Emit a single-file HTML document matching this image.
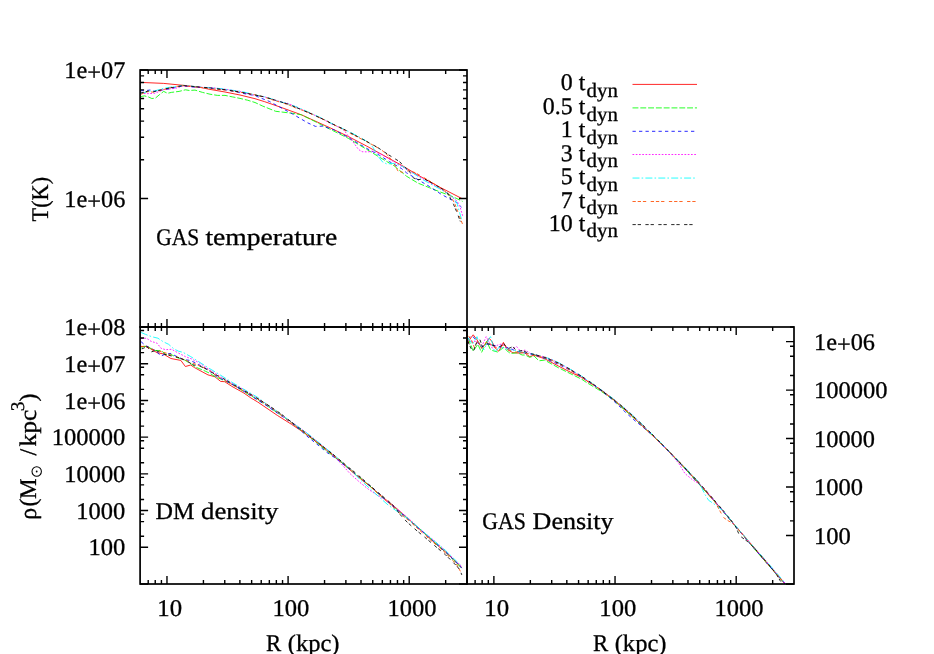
<!DOCTYPE html>
<html><head><meta charset="utf-8"><title>plot</title>
<style>
html,body{margin:0;padding:0;background:#fff;}
body{width:934px;height:654px;overflow:hidden;}
svg{display:block;will-change:transform;}
text{font-family:"Liberation Serif",serif;fill:#000;stroke:#000;stroke-width:0.3px;text-rendering:geometricPrecision;}
</style></head><body>
<svg width="934" height="654" viewBox="0 0 934 654">
<rect width="934" height="654" fill="#fff"/>
<defs><clipPath id="cT"><rect x="140.1" y="70" width="326.9" height="257"/></clipPath><clipPath id="cD"><rect x="140.1" y="327" width="326.9" height="257"/></clipPath><clipPath id="cG"><rect x="467" y="327" width="327" height="257"/></clipPath></defs>
<g clip-path="url(#cT)" fill="none" stroke-width="0.85" stroke-linejoin="round">
<path d="M140.1 82.4L150.0 82.8L163.7 83.4L183.0 85.3L197.7 86.9L210.0 89.4L225.0 92.0L240.0 95.0L255.0 98.7L264.7 101.7L280.0 107.0L301.4 114.8L330.0 127.8L348.3 136.5L366.7 146.1L385.0 156.2L403.4 166.3L417.9 175.1L440.8 187.7L462.0 198.6" stroke="#ff0000"/>
<path d="M140.6 96.6L144.4 95.9L148.3 96.9L151.8 98.5L155.3 98.2L159.2 94.9L163.7 91.4L167.5 93.3L171.4 92.4L179.1 91.4L185.5 89.8L189.4 90.5L195.0 90.1L202.5 92.4L210.0 94.2L217.5 95.4L225.0 95.4L232.5 96.9L240.0 98.4L247.5 100.2L255.0 102.5L262.5 106.0L275.7 111.3L292.4 113.3L301.4 114.8L315.0 121.5L330.0 129.2L348.3 138.3L366.7 149.4L379.5 157.2L394.2 165.9L406.5 176.2L417.9 183.1L429.4 187.7L440.8 192.2L448.9 195.1L456.9 198.6L462.6 201.4" stroke="#00ff00" stroke-dasharray="5.9 1.9"/>
<path d="M140.6 90.8L148.0 90.3L151.5 89.8L154.0 91.4L163.7 89.8L170.1 88.8L183.0 85.8L195.0 87.2L202.5 87.3L210.0 88.0L217.5 89.0L225.0 89.7L232.5 91.1L240.0 92.7L247.5 94.3L255.0 95.5L258.7 97.2L269.3 101.4L280.0 107.2L292.4 113.9L307.8 122.9L315.5 126.4L323.2 126.1L330.0 128.7L333.5 129.6L348.3 137.4L366.7 148.4L379.5 155.3L389.6 161.7L401.6 168.6L406.5 172.8L417.9 179.6L429.4 186.5L440.8 194.0L450.0 199.1L456.9 202.6L461.5 207.2" stroke="#0000ff" stroke-dasharray="3.3 3.2"/>
<path d="M140.6 93.2L146.3 93.7L154.7 93.3L163.7 89.6L175.9 88.2L183.0 85.8L195.0 87.1L202.5 87.4L210.0 87.5L217.5 88.4L225.0 89.3L232.5 90.3L240.0 91.6L247.5 93.7L255.0 95.3L264.7 96.9L272.6 99.5L280.6 101.7L288.5 103.6L295.7 106.7L302.8 110.1L310.0 113.1L318.5 117.0L327.0 121.4L330.0 123.2L339.2 127.3L343.8 130.1L347.4 134.7L351.1 139.3L354.8 144.3L358.4 149.4L362.1 151.7L367.6 151.9L373.1 151.2L380.5 153.9L394.2 161.9L406.5 169.3L423.7 179.1L443.1 190.5L456.9 200.8L460.3 207.7L462.6 215.7" stroke="#ff00ff" stroke-dasharray="1.7 1.55"/>
<path d="M140.6 93.4L146.0 92.2L148.3 90.8L153.4 91.3L163.7 88.3L170.1 87.2L176.6 86.4L183.0 85.3L189.0 85.8L195.0 86.6L202.5 87.5L210.0 87.8L217.5 88.3L225.0 89.2L232.5 90.3L240.0 91.2L247.5 92.9L255.0 94.9L264.7 96.9L272.6 99.2L280.6 101.8L288.5 104.0L295.7 106.6L302.8 109.5L310.0 112.8L318.5 116.7L327.0 120.7L330.0 122.6L336.9 126.1L343.8 129.2L350.6 132.5L357.5 136.0L369.0 142.6L373.1 147.5L377.7 155.8L382.3 161.7L386.9 164.0L394.2 163.3L403.4 166.8L406.5 168.8L423.7 180.2L440.8 189.4L452.3 196.3L456.9 203.1L461.5 219.2" stroke="#00ffff" stroke-dasharray="7.0 2.1 1.6 2.2"/>
<path d="M141.2 94.3L144.4 92.6L148.3 91.6L153.4 92.2L163.7 89.5L170.1 87.8L176.6 86.5L183.0 85.6L189.0 86.3L195.0 86.9L202.5 87.6L210.0 88.6L217.5 89.5L225.0 90.0L232.5 91.0L240.0 92.2L247.5 93.4L255.0 94.8L264.7 97.2L272.6 99.9L280.6 102.3L288.5 104.8L295.7 107.9L302.8 110.4L310.0 113.1L318.5 117.2L327.0 121.1L330.0 122.9L336.9 126.2L343.8 129.8L350.6 133.6L357.5 137.0L369.4 143.1L381.4 149.8L388.7 156.2L394.2 164.0L397.9 170.9L403.4 172.6L408.8 170.5L415.6 172.8L429.4 180.8L440.8 188.2L450.0 195.1L454.6 203.1L458.0 212.3L462.6 224.3" stroke="#ff4d00" stroke-dasharray="3.3 1.9 3.3 1.9 3.3 4.5"/>
<path d="M140.6 93.0L144.4 92.1L148.3 91.0L153.4 91.7L163.7 89.2L170.1 87.9L183.0 85.6L195.0 86.7L210.0 87.9L225.0 89.7L240.0 92.0L255.0 95.0L264.7 96.9L288.5 104.3L310.0 113.3L327.0 121.0L330.0 122.8L343.8 129.2L357.5 136.5L369.4 142.9L377.7 147.5L388.7 154.9L399.7 161.7L401.9 164.2L407.6 169.9L409.9 172.2L413.3 177.9L417.9 179.6L424.8 179.1L435.1 184.8L440.8 188.2L446.6 191.7L450.0 197.4L453.5 204.3L456.9 212.3L460.3 221.5" stroke="#000000" stroke-dasharray="3.3 1.9 3.3 4.4"/>
</g>
<g clip-path="url(#cD)" fill="none" stroke-width="0.85" stroke-linejoin="round">
<path d="M141.1 346.6L147.2 346.3L151.8 349.7L157.1 352.7L163.2 353.9L170.9 358.5L180.8 360.4L185.4 366.5L190.7 365.0L194.5 367.6L208.0 374.9L215.0 376.8L220.6 381.4L224.7 381.7L231.6 386.2L244.0 393.1L250.8 397.9L257.7 402.0L277.5 415.5L291.3 424.2L305.0 433.3L311.9 438.3L318.8 443.6L325.7 449.4L332.6 455.0L341.3 462.2L350.0 469.9L356.4 475.4L362.7 480.5L369.1 485.5L375.5 490.9L381.8 496.3L388.2 501.5L394.6 506.7L400.9 512.2L407.3 518.0L413.7 523.8L420.0 529.5L426.4 535.3L432.8 541.1L439.1 546.6L445.5 551.8L453.6 559.5L461.8 567.5" stroke="#ff0000"/>
<path d="M141.1 348.5L143.3 346.3L147.9 346.6L154.0 350.5L160.9 350.5L166.3 354.7L170.1 353.9L176.2 357.3L183.9 359.6L191.5 364.2L196.1 367.3L205.2 371.1L209.6 373.2L215.0 376.6L227.4 381.9L233.0 384.8L245.0 392.3L255.0 398.0L265.0 404.3L271.2 408.7L277.5 412.7L284.4 417.4L291.3 422.6L298.1 428.1L305.0 433.3L311.9 438.7L318.8 444.4L325.7 450.2L332.6 455.5L341.3 462.3L350.0 469.6L356.4 474.8L362.7 479.9L369.1 485.3L375.5 491.2L381.8 496.9L388.2 502.2L394.6 507.5L400.9 512.9L407.3 518.3L413.7 523.7L420.0 529.1L426.4 534.9L432.8 540.7L439.1 546.4L445.5 551.9L453.6 560.2L461.8 568.3" stroke="#00ff00" stroke-dasharray="5.9 1.9"/>
<path d="M141.1 341.7L145.3 345.5L150.2 348.2L155.6 350.5L160.9 356.2L164.7 354.3L170.9 353.5L177.7 357.0L183.9 359.6L190.0 360.4L196.1 363.1L200.7 365.7L208.0 369.9L215.0 375.4L225.0 380.7L235.0 385.9L245.0 392.0L255.0 398.4L265.0 404.5L271.2 408.9L277.5 413.2L284.4 417.9L291.3 422.6L300.0 429.8L308.0 437.0L318.0 445.0L327.0 452.5L335.0 457.8L350.0 469.6L356.4 474.9L362.7 480.1L369.1 485.1L375.5 490.6L381.8 496.5L388.2 502.3L394.6 507.6L400.9 512.9L407.3 518.4L413.7 524.2L420.0 529.5L426.4 534.8L432.8 540.4L439.1 546.2L445.5 551.9L453.6 559.8L461.8 568.1" stroke="#0000ff" stroke-dasharray="3.3 3.2"/>
<path d="M141.1 338.6L146.4 338.2L151.0 341.3L157.1 343.2L160.9 348.2L165.5 349.7L171.6 349.3L177.7 352.7L185.4 356.6L191.5 358.9L199.1 362.7L208.0 368.8L220.0 376.3L225.0 379.5L235.0 384.9L245.0 390.3L255.0 396.8L265.0 403.5L271.2 407.7L277.5 412.0L284.4 417.2L291.3 421.9L298.1 426.6L305.0 431.7L311.9 437.4L318.8 442.9L325.7 448.5L332.6 454.4L341.0 463.5L350.0 473.6L360.0 482.5L369.1 489.8L378.0 495.5L388.2 502.0L407.3 517.3L413.7 523.1L420.0 529.0L426.4 534.4L432.8 539.5L439.1 545.0L445.5 550.7L453.6 558.7L461.8 566.6" stroke="#ff00ff" stroke-dasharray="1.7 1.55"/>
<path d="M141.1 332.5L145.6 334.4L151.8 336.7L157.9 338.2L163.2 341.7L168.6 344.3L173.9 348.9L178.5 351.2L183.1 352.4L190.7 356.6L199.1 361.9L208.0 367.6L220.0 374.8L231.6 382.1L245.0 390.0L257.7 397.4L265.0 402.9L271.2 407.4L277.5 411.7L284.4 416.7L291.3 421.9L298.1 426.9L305.0 431.6L311.9 436.9L318.8 442.5L325.7 448.2L332.6 453.7L341.3 461.3L350.0 468.8L360.0 479.5L369.1 487.9L378.0 496.0L388.2 505.1L398.0 512.0L407.3 518.0L426.4 534.4L432.8 539.8L439.1 545.0L445.5 550.4L453.6 558.4L461.8 566.3" stroke="#00ffff" stroke-dasharray="7.0 2.1 1.6 2.2"/>
<path d="M141.1 346.3L145.6 346.8L151.0 348.9L157.9 350.8L166.3 353.1L172.0 355.5L180.0 358.0L190.0 362.0L200.0 366.0L208.0 369.5L215.0 374.8L225.0 380.6L235.0 386.2L245.0 391.5L255.0 397.4L265.0 403.3L271.2 407.5L277.5 412.0L284.4 417.5L291.3 422.7L298.1 427.8L305.0 433.2L311.9 438.7L318.8 443.7L325.7 448.9L332.6 454.5L341.3 461.8L350.0 468.9L356.4 474.4L362.7 480.2L369.1 485.6L392.0 506.0L400.0 513.5L410.0 521.5L426.4 536.5L445.5 553.0L457.0 565.0L461.8 574.0" stroke="#ff4d00" stroke-dasharray="3.3 1.9 3.3 1.9 3.3 4.5"/>
<path d="M141.8 348.9L147.2 346.6L151.0 352.0L155.6 350.5L164.7 354.3L170.9 355.8L177.7 357.3L185.4 360.4L193.8 365.0L200.7 366.5L208.0 369.9L215.0 374.3L225.0 379.5L235.0 385.4L245.0 391.1L255.0 396.8L265.0 403.2L271.2 407.2L277.5 411.4L284.4 416.5L291.3 421.9L298.1 427.1L305.0 432.3L311.9 437.9L318.8 443.4L325.7 448.7L332.6 454.0L341.3 461.3L350.0 468.5L356.4 473.6L362.7 479.1L369.1 484.7L375.5 490.3L381.8 495.6L388.2 500.9L395.0 507.3L400.0 514.5L407.3 522.3L416.0 530.0L426.4 538.6L436.0 546.8L445.5 554.8L457.0 566.3L460.0 570.0L461.8 574.9" stroke="#000000" stroke-dasharray="3.3 1.9 3.3 4.4"/>
</g>
<g clip-path="url(#cG)" fill="none" stroke-width="0.85" stroke-linejoin="round">
<path d="M467.8 343.6L470.0 339.0L473.2 334.8L477.0 339.8L482.0 348.5L489.2 338.2L492.3 342.0L494.6 347.4L498.8 351.2L503.4 342.4L507.6 349.7L512.9 352.7L519.0 353.1L524.4 352.7L529.7 356.6L534.0 355.2L544.6 358.7L558.3 366.0L572.1 373.0L582.0 377.5L590.0 383.0L595.0 385.9L603.7 392.1L612.0 398.4L620.5 405.9L629.0 413.5L637.3 421.1L645.5 428.9L654.1 437.1L662.0 444.4L670.0 452.6L678.0 461.0L686.1 469.5L692.5 476.5L699.0 483.8L705.9 491.8L712.8 499.5L723.5 511.7L734.3 524.7L745.0 537.1L755.7 550.0L766.4 562.6L777.1 574.8L785.7 584.8L790.0 589.7" stroke="#ff0000"/>
<path d="M467.8 338.2L470.9 345.1L473.2 351.2L477.8 344.3L481.6 352.4L486.9 341.3L490.0 348.9L492.3 350.5L497.6 352.0L503.7 347.4L508.3 352.0L510.6 353.5L517.5 352.7L522.1 355.0L525.1 355.0L529.7 357.3L534.0 356.0L539.0 360.8L544.6 360.1L558.3 367.7L572.1 374.5L582.0 379.4L586.8 382.7L595.0 387.5L603.7 393.0L612.0 398.8L620.5 406.3L629.0 413.5L637.3 421.2L645.5 429.0L654.1 436.8L662.0 444.5L670.0 453.0L678.0 461.2L686.1 469.7L692.5 477.0L699.0 484.1L705.9 491.8L712.8 499.3L723.5 511.9L734.3 524.7L745.0 537.4L755.7 550.4L766.4 562.7L777.1 575.0L785.7 584.7L790.0 589.4" stroke="#00ff00" stroke-dasharray="5.9 1.9"/>
<path d="M467.8 339.0L471.6 335.9L473.9 337.5L477.8 342.8L481.6 347.4L485.4 344.3L490.0 344.0L494.6 345.5L498.4 347.0L503.7 346.6L509.9 348.2L516.0 351.2L522.1 352.4L529.0 353.5L534.0 354.7L544.6 358.2L551.0 360.9L558.3 364.4L565.0 367.5L572.1 371.2L579.0 375.4L586.8 380.5L595.0 385.9L603.7 392.6L612.0 399.4L620.5 407.3L626.0 412.8L630.6 416.9L636.0 421.6L640.7 425.3L648.0 431.4L654.1 436.6L662.0 444.7L670.0 453.1L678.0 461.2L686.1 469.9L692.5 477.0L699.0 483.7L705.9 491.2L712.8 499.1L723.5 511.7L734.3 524.7L745.0 537.8L755.7 550.2L766.4 562.6L777.1 574.7L785.7 584.2L790.0 589.2" stroke="#0000ff" stroke-dasharray="3.3 3.2"/>
<path d="M467.8 339.8L471.6 341.3L477.0 341.3L481.6 346.6L486.2 336.7L489.2 342.4L492.3 348.2L498.4 344.7L502.2 344.0L506.8 348.2L511.4 349.7L516.7 346.6L520.5 351.2L525.1 350.1L530.5 353.5L534.0 354.6L544.6 356.9L551.0 359.2L558.3 362.9L565.0 366.6L572.1 370.7L579.0 375.0L586.8 380.4L595.0 385.8L603.7 391.6L612.0 398.0L620.5 404.8L629.0 411.9L637.3 420.2L645.5 428.4L654.1 436.5L662.0 444.4L670.0 452.7L674.0 457.5L678.6 463.2L685.0 473.6L691.4 478.9L697.0 482.6L699.0 482.9L705.9 490.7L712.8 498.6L723.5 511.7L734.3 524.5L745.0 536.9L755.7 549.2L766.4 561.4L777.1 574.2L785.7 584.1L790.0 589.1" stroke="#ff00ff" stroke-dasharray="1.7 1.55"/>
<path d="M467.8 337.5L472.4 344.3L477.0 336.7L479.3 343.6L483.9 349.7L490.4 335.9L494.6 352.0L499.9 346.6L503.7 348.2L509.9 349.7L516.0 350.5L523.6 352.7L530.5 353.5L534.0 354.6L544.6 357.1L551.0 359.2L558.3 362.5L565.0 366.2L572.1 370.4L579.0 374.4L586.8 379.7L595.0 385.5L603.7 391.6L612.0 397.8L620.5 404.8L629.0 412.0L637.3 419.6L645.5 427.7L654.1 436.2L662.0 443.9L670.0 452.3L678.0 460.4L686.1 468.5L692.5 475.3L699.0 482.4L702.1 488.6L705.0 494.5L708.6 500.3L715.0 504.6L719.5 508.0L723.5 511.1L734.3 524.4L745.0 536.7L755.7 549.2L766.4 561.2L777.1 573.5L785.7 583.8L790.0 588.8" stroke="#00ffff" stroke-dasharray="7.0 2.1 1.6 2.2"/>
<path d="M468.6 335.9L471.6 340.5L474.7 348.2L477.8 340.5L481.6 348.2L486.2 342.4L490.0 343.6L494.6 347.4L500.7 347.4L503.7 344.3L508.3 349.7L516.0 352.0L523.6 352.4L530.5 354.3L534.0 355.0L544.6 357.2L551.0 359.9L558.3 363.6L565.0 367.1L572.1 371.4L579.0 375.8L586.8 380.8L595.0 385.8L603.7 392.0L612.0 398.4L620.5 405.1L629.0 412.8L637.3 421.1L645.5 428.8L654.1 437.0L662.0 444.9L670.0 452.7L678.0 460.4L686.1 469.1L692.5 476.2L699.0 483.2L705.9 491.2L712.8 499.4L716.0 503.5L718.2 507.8L723.5 517.5L728.0 520.7L732.1 522.8L734.3 524.6L745.0 537.2L755.7 549.4L766.4 562.1L777.1 574.7L785.7 584.5L790.0 589.6" stroke="#ff4d00" stroke-dasharray="3.3 1.9 3.3 1.9 3.3 4.5"/>
<path d="M467.8 341.3L470.9 348.2L473.2 351.6L477.0 341.3L480.0 339.8L482.3 346.6L486.9 343.6L490.0 344.3L494.6 345.9L499.9 346.6L503.7 343.6L507.6 348.9L512.9 346.6L516.7 351.2L522.8 350.5L529.0 353.5L534.0 354.3L544.6 357.5L551.0 359.9L558.3 363.0L565.0 366.3L572.1 370.5L579.0 374.7L586.8 379.6L595.0 385.4L603.7 392.1L612.0 398.3L620.5 405.1L629.0 412.5L637.3 420.0L645.5 427.6L654.1 436.2L662.0 444.2L670.0 452.4L678.0 460.7L686.1 469.2L692.5 475.8L699.0 482.6L705.9 490.5L712.8 498.4L723.5 510.9L734.3 524.4L736.4 528.2L739.6 535.7L747.1 541.2L751.5 545.2L755.7 549.6L766.4 562.0L772.0 568.5L777.1 575.6L780.3 580.9L784.0 584.8" stroke="#000000" stroke-dasharray="3.3 1.9 3.3 4.4"/>
</g>
<rect x="140.10" y="70.00" width="326.90" height="257.00" fill="none" stroke="#000" stroke-width="1.70"/>
<rect x="140.10" y="327.00" width="326.90" height="257.00" fill="none" stroke="#000" stroke-width="1.70"/>
<rect x="467.00" y="327.00" width="327.00" height="257.00" fill="none" stroke="#000" stroke-width="1.70"/>
<path d="M148.21 70.00L148.21 74.00M155.23 70.00L155.23 74.00M161.43 70.00L161.43 74.00M166.97 70.00L166.97 78.00M203.43 70.00L203.43 74.00M224.76 70.00L224.76 74.00M239.89 70.00L239.89 74.00M251.63 70.00L251.63 74.00M261.22 70.00L261.22 74.00M269.33 70.00L269.33 74.00M276.35 70.00L276.35 74.00M282.55 70.00L282.55 74.00M288.09 70.00L288.09 78.00M324.55 70.00L324.55 74.00M345.88 70.00L345.88 74.00M361.01 70.00L361.01 74.00M372.75 70.00L372.75 74.00M382.34 70.00L382.34 74.00M390.45 70.00L390.45 74.00M397.47 70.00L397.47 74.00M403.67 70.00L403.67 74.00M409.21 70.00L409.21 78.00M445.67 70.00L445.67 74.00M148.21 327.00L148.21 323.00M155.23 327.00L155.23 323.00M161.43 327.00L161.43 323.00M166.97 327.00L166.97 319.00M203.43 327.00L203.43 323.00M224.76 327.00L224.76 323.00M239.89 327.00L239.89 323.00M251.63 327.00L251.63 323.00M261.22 327.00L261.22 323.00M269.33 327.00L269.33 323.00M276.35 327.00L276.35 323.00M282.55 327.00L282.55 323.00M288.09 327.00L288.09 319.00M324.55 327.00L324.55 323.00M345.88 327.00L345.88 323.00M361.01 327.00L361.01 323.00M372.75 327.00L372.75 323.00M382.34 327.00L382.34 323.00M390.45 327.00L390.45 323.00M397.47 327.00L397.47 323.00M403.67 327.00L403.67 323.00M409.21 327.00L409.21 319.00M445.67 327.00L445.67 323.00M140.10 327.00L148.10 327.00M140.10 198.50L148.10 198.50M140.10 159.82L144.10 159.82M140.10 137.19L144.10 137.19M140.10 121.14L144.10 121.14M140.10 108.68L144.10 108.68M140.10 98.51L144.10 98.51M140.10 89.90L144.10 89.90M140.10 82.45L144.10 82.45M140.10 75.88L144.10 75.88M140.10 70.00L148.10 70.00M467.00 327.00L459.00 327.00M467.00 198.50L459.00 198.50M467.00 159.82L463.00 159.82M467.00 137.19L463.00 137.19M467.00 121.14L463.00 121.14M467.00 108.68L463.00 108.68M467.00 98.51L463.00 98.51M467.00 89.90L463.00 89.90M467.00 82.45L463.00 82.45M467.00 75.88L463.00 75.88M467.00 70.00L459.00 70.00M148.21 327.00L148.21 331.00M155.23 327.00L155.23 331.00M161.43 327.00L161.43 331.00M166.97 327.00L166.97 335.00M203.43 327.00L203.43 331.00M224.76 327.00L224.76 331.00M239.89 327.00L239.89 331.00M251.63 327.00L251.63 331.00M261.22 327.00L261.22 331.00M269.33 327.00L269.33 331.00M276.35 327.00L276.35 331.00M282.55 327.00L282.55 331.00M288.09 327.00L288.09 335.00M324.55 327.00L324.55 331.00M345.88 327.00L345.88 331.00M361.01 327.00L361.01 331.00M372.75 327.00L372.75 331.00M382.34 327.00L382.34 331.00M390.45 327.00L390.45 331.00M397.47 327.00L397.47 331.00M403.67 327.00L403.67 331.00M409.21 327.00L409.21 335.00M445.67 327.00L445.67 331.00M148.21 584.00L148.21 580.00M155.23 584.00L155.23 580.00M161.43 584.00L161.43 580.00M166.97 584.00L166.97 576.00M203.43 584.00L203.43 580.00M224.76 584.00L224.76 580.00M239.89 584.00L239.89 580.00M251.63 584.00L251.63 580.00M261.22 584.00L261.22 580.00M269.33 584.00L269.33 580.00M276.35 584.00L276.35 580.00M282.55 584.00L282.55 580.00M288.09 584.00L288.09 576.00M324.55 584.00L324.55 580.00M345.88 584.00L345.88 580.00M361.01 584.00L361.01 580.00M372.75 584.00L372.75 580.00M382.34 584.00L382.34 580.00M390.45 584.00L390.45 580.00M397.47 584.00L397.47 580.00M403.67 584.00L403.67 580.00M409.21 584.00L409.21 576.00M445.67 584.00L445.67 580.00M140.10 584.00L148.10 584.00M140.10 547.29L148.10 547.29M140.10 536.23L144.10 536.23M140.10 521.62L144.10 521.62M140.10 514.13L144.10 514.13M140.10 510.57L148.10 510.57M140.10 499.52L144.10 499.52M140.10 484.91L144.10 484.91M140.10 477.42L144.10 477.42M140.10 473.86L148.10 473.86M140.10 462.81L144.10 462.81M140.10 448.19L144.10 448.19M140.10 440.70L144.10 440.70M140.10 437.14L148.10 437.14M140.10 426.09L144.10 426.09M140.10 411.48L144.10 411.48M140.10 403.99L144.10 403.99M140.10 400.43L148.10 400.43M140.10 389.38L144.10 389.38M140.10 374.77L144.10 374.77M140.10 367.27L144.10 367.27M140.10 363.71L148.10 363.71M140.10 352.66L144.10 352.66M140.10 338.05L144.10 338.05M140.10 330.56L144.10 330.56M140.10 327.00L148.10 327.00M467.00 584.00L459.00 584.00M467.00 547.29L459.00 547.29M467.00 536.23L463.00 536.23M467.00 521.62L463.00 521.62M467.00 514.13L463.00 514.13M467.00 510.57L459.00 510.57M467.00 499.52L463.00 499.52M467.00 484.91L463.00 484.91M467.00 477.42L463.00 477.42M467.00 473.86L459.00 473.86M467.00 462.81L463.00 462.81M467.00 448.19L463.00 448.19M467.00 440.70L463.00 440.70M467.00 437.14L459.00 437.14M467.00 426.09L463.00 426.09M467.00 411.48L463.00 411.48M467.00 403.99L463.00 403.99M467.00 400.43L459.00 400.43M467.00 389.38L463.00 389.38M467.00 374.77L463.00 374.77M467.00 367.27L463.00 367.27M467.00 363.71L459.00 363.71M467.00 352.66L463.00 352.66M467.00 338.05L463.00 338.05M467.00 330.56L463.00 330.56M467.00 327.00L459.00 327.00M475.11 327.00L475.11 331.00M482.14 327.00L482.14 331.00M488.33 327.00L488.33 331.00M493.88 327.00L493.88 335.00M530.35 327.00L530.35 331.00M551.69 327.00L551.69 331.00M566.82 327.00L566.82 331.00M578.56 327.00L578.56 331.00M588.16 327.00L588.16 331.00M596.27 327.00L596.27 331.00M603.29 327.00L603.29 331.00M609.49 327.00L609.49 331.00M615.04 327.00L615.04 335.00M651.51 327.00L651.51 331.00M672.84 327.00L672.84 331.00M687.98 327.00L687.98 331.00M699.72 327.00L699.72 331.00M709.31 327.00L709.31 331.00M717.43 327.00L717.43 331.00M724.45 327.00L724.45 331.00M730.65 327.00L730.65 331.00M736.19 327.00L736.19 335.00M772.67 327.00L772.67 331.00M475.11 584.00L475.11 580.00M482.14 584.00L482.14 580.00M488.33 584.00L488.33 580.00M493.88 584.00L493.88 576.00M530.35 584.00L530.35 580.00M551.69 584.00L551.69 580.00M566.82 584.00L566.82 580.00M578.56 584.00L578.56 580.00M588.16 584.00L588.16 580.00M596.27 584.00L596.27 580.00M603.29 584.00L603.29 580.00M609.49 584.00L609.49 580.00M615.04 584.00L615.04 576.00M651.51 584.00L651.51 580.00M672.84 584.00L672.84 580.00M687.98 584.00L687.98 580.00M699.72 584.00L699.72 580.00M709.31 584.00L709.31 580.00M717.43 584.00L717.43 580.00M724.45 584.00L724.45 580.00M730.65 584.00L730.65 580.00M736.19 584.00L736.19 576.00M772.67 584.00L772.67 580.00M794.00 584.00L786.00 584.00M794.00 535.52L786.00 535.52M794.00 520.92L790.00 520.92M794.00 501.63L790.00 501.63M794.00 491.74L790.00 491.74M794.00 487.04L786.00 487.04M794.00 472.44L790.00 472.44M794.00 453.15L790.00 453.15M794.00 443.25L790.00 443.25M794.00 438.56L786.00 438.56M794.00 423.96L790.00 423.96M794.00 404.67L790.00 404.67M794.00 394.77L790.00 394.77M794.00 390.08L786.00 390.08M794.00 375.48L790.00 375.48M794.00 356.19L790.00 356.19M794.00 346.29L790.00 346.29M794.00 341.59L786.00 341.59M794.00 327.00L790.00 327.00" stroke="#000" stroke-width="1.4" fill="none"/>
<text x="125.30" y="78.10" font-size="23.90" text-anchor="end" textLength="61.00" lengthAdjust="spacingAndGlyphs" >1e<tspan dy="2.2">+</tspan><tspan dy="-2.2">07</tspan></text>
<text x="125.30" y="206.60" font-size="23.90" text-anchor="end" textLength="61.00" lengthAdjust="spacingAndGlyphs" >1e<tspan dy="2.2">+</tspan><tspan dy="-2.2">06</tspan></text>
<text x="125.30" y="335.10" font-size="23.90" text-anchor="end" textLength="61.00" lengthAdjust="spacingAndGlyphs" >1e<tspan dy="2.2">+</tspan><tspan dy="-2.2">08</tspan></text>
<text x="125.30" y="371.81" font-size="23.90" text-anchor="end" textLength="61.00" lengthAdjust="spacingAndGlyphs" >1e<tspan dy="2.2">+</tspan><tspan dy="-2.2">07</tspan></text>
<text x="125.30" y="408.53" font-size="23.90" text-anchor="end" textLength="61.00" lengthAdjust="spacingAndGlyphs" >1e<tspan dy="2.2">+</tspan><tspan dy="-2.2">06</tspan></text>
<text x="125.30" y="445.24" font-size="23.90" text-anchor="end" textLength="73.60" lengthAdjust="spacingAndGlyphs" >100000</text>
<text x="125.30" y="481.96" font-size="23.90" text-anchor="end" textLength="61.00" lengthAdjust="spacingAndGlyphs" >10000</text>
<text x="125.30" y="518.67" font-size="23.90" text-anchor="end" textLength="49.00" lengthAdjust="spacingAndGlyphs" >1000</text>
<text x="125.30" y="555.39" font-size="23.90" text-anchor="end" textLength="36.90" lengthAdjust="spacingAndGlyphs" >100</text>
<text x="814.00" y="349.69" font-size="23.90" text-anchor="start" textLength="61.00" lengthAdjust="spacingAndGlyphs" >1e<tspan dy="2.2">+</tspan><tspan dy="-2.2">06</tspan></text>
<text x="814.00" y="398.18" font-size="23.90" text-anchor="start" textLength="73.60" lengthAdjust="spacingAndGlyphs" >100000</text>
<text x="814.00" y="446.66" font-size="23.90" text-anchor="start" textLength="61.00" lengthAdjust="spacingAndGlyphs" >10000</text>
<text x="814.00" y="495.14" font-size="23.90" text-anchor="start" textLength="49.00" lengthAdjust="spacingAndGlyphs" >1000</text>
<text x="814.00" y="543.62" font-size="23.90" text-anchor="start" textLength="36.90" lengthAdjust="spacingAndGlyphs" >100</text>
<text x="169.77" y="615.60" font-size="23.90" text-anchor="middle" textLength="24.80" lengthAdjust="spacingAndGlyphs" >10</text>
<text x="290.89" y="615.60" font-size="23.90" text-anchor="middle" textLength="36.90" lengthAdjust="spacingAndGlyphs" >100</text>
<text x="412.01" y="615.60" font-size="23.90" text-anchor="middle" textLength="49.00" lengthAdjust="spacingAndGlyphs" >1000</text>
<text x="266.05" y="650.80" font-size="23.90" text-anchor="start" textLength="15.20" lengthAdjust="spacingAndGlyphs" >R</text>
<text x="287.75" y="650.80" font-size="23.90" text-anchor="start" textLength="51.80" lengthAdjust="spacingAndGlyphs" >(kpc)</text>
<text x="496.68" y="615.60" font-size="23.90" text-anchor="middle" textLength="24.80" lengthAdjust="spacingAndGlyphs" >10</text>
<text x="617.84" y="615.60" font-size="23.90" text-anchor="middle" textLength="36.90" lengthAdjust="spacingAndGlyphs" >100</text>
<text x="738.99" y="615.60" font-size="23.90" text-anchor="middle" textLength="49.00" lengthAdjust="spacingAndGlyphs" >1000</text>
<text x="593.00" y="650.80" font-size="23.90" text-anchor="start" textLength="15.20" lengthAdjust="spacingAndGlyphs" >R</text>
<text x="614.70" y="650.80" font-size="23.90" text-anchor="start" textLength="51.80" lengthAdjust="spacingAndGlyphs" >(kpc)</text>
<text x="156.20" y="244.50" font-size="23.90" text-anchor="start" textLength="42.90" lengthAdjust="spacingAndGlyphs" >GAS</text>
<text x="205.40" y="244.50" font-size="23.90" text-anchor="start" textLength="131.80" lengthAdjust="spacingAndGlyphs" >temperature</text>
<text x="155.50" y="518.50" font-size="23.90" text-anchor="start" textLength="38.90" lengthAdjust="spacingAndGlyphs" >DM</text>
<text x="201.10" y="518.50" font-size="23.90" text-anchor="start" textLength="77.30" lengthAdjust="spacingAndGlyphs" >density</text>
<text x="482.20" y="528.80" font-size="23.90" text-anchor="start" textLength="43.60" lengthAdjust="spacingAndGlyphs" >GAS</text>
<text x="532.60" y="528.80" font-size="23.90" text-anchor="start" textLength="81.00" lengthAdjust="spacingAndGlyphs" >Density</text>
<g transform="translate(47.6,199.2) rotate(-90)"><text x="0" y="0" font-size="23.90" text-anchor="middle" textLength="44.5" lengthAdjust="spacingAndGlyphs">T(K)</text></g>
<g transform="translate(35.8,519.1) rotate(-90)">
<text x="-0.6" y="0" font-size="23.9">ρ</text>
<text x="12.6" y="0" font-size="23.9">(</text>
<text x="20.0" y="0" font-size="23.9" textLength="20.6" lengthAdjust="spacingAndGlyphs">M</text>
<circle cx="47.6" cy="0.9" r="4.7" fill="none" stroke="#000" stroke-width="1.05"/><circle cx="47.6" cy="0.9" r="0.9" fill="#000"/>
<text x="63.6" y="0" font-size="23.9">/</text>
<text x="72.6" y="0" font-size="23.9" textLength="37" lengthAdjust="spacingAndGlyphs">kpc</text>
<text x="107.9" y="-11.7" font-size="19.4">3</text>
<text x="117.6" y="0" font-size="23.9">)</text>
</g>
<g fill="none" stroke-width="0.85">
<path d="M632.5 84.40L697 84.40" stroke="#ff0000"/>
<path d="M632.5 107.90L697 107.90" stroke="#00ff00" stroke-dasharray="5.9 1.9"/>
<path d="M632.5 131.30L697 131.30" stroke="#0000ff" stroke-dasharray="3.3 3.2"/>
<path d="M632.5 154.50L697 154.50" stroke="#ff00ff" stroke-dasharray="1.7 1.55"/>
<path d="M632.5 178.05L697 178.05" stroke="#00ffff" stroke-dasharray="7.0 2.1 1.6 2.2"/>
<path d="M632.5 201.50L697 201.50" stroke="#ff4d00" stroke-dasharray="3.3 1.9 3.3 1.9 3.3 4.5"/>
<path d="M632.5 224.60L697 224.60" stroke="#000000" stroke-dasharray="3.3 1.9 3.3 4.4"/>
</g>
<text x="572.6" y="90.40" font-size="23.9" text-anchor="end">0</text>
<text x="578.8" y="90.40" font-size="23.9">t</text>
<text x="586.6" y="97.10" font-size="20.4" textLength="31.4" lengthAdjust="spacingAndGlyphs">dyn</text>
<text x="572.6" y="113.90" font-size="23.9" text-anchor="end">0.5</text>
<text x="578.8" y="113.90" font-size="23.9">t</text>
<text x="586.6" y="120.60" font-size="20.4" textLength="31.4" lengthAdjust="spacingAndGlyphs">dyn</text>
<text x="572.6" y="137.30" font-size="23.9" text-anchor="end">1</text>
<text x="578.8" y="137.30" font-size="23.9">t</text>
<text x="586.6" y="144.00" font-size="20.4" textLength="31.4" lengthAdjust="spacingAndGlyphs">dyn</text>
<text x="572.6" y="160.50" font-size="23.9" text-anchor="end">3</text>
<text x="578.8" y="160.50" font-size="23.9">t</text>
<text x="586.6" y="167.20" font-size="20.4" textLength="31.4" lengthAdjust="spacingAndGlyphs">dyn</text>
<text x="572.6" y="184.05" font-size="23.9" text-anchor="end">5</text>
<text x="578.8" y="184.05" font-size="23.9">t</text>
<text x="586.6" y="190.75" font-size="20.4" textLength="31.4" lengthAdjust="spacingAndGlyphs">dyn</text>
<text x="572.6" y="207.50" font-size="23.9" text-anchor="end">7</text>
<text x="578.8" y="207.50" font-size="23.9">t</text>
<text x="586.6" y="214.20" font-size="20.4" textLength="31.4" lengthAdjust="spacingAndGlyphs">dyn</text>
<text x="572.6" y="230.60" font-size="23.9" text-anchor="end">10</text>
<text x="578.8" y="230.60" font-size="23.9">t</text>
<text x="586.6" y="237.30" font-size="20.4" textLength="31.4" lengthAdjust="spacingAndGlyphs">dyn</text>
</svg>
</body></html>
